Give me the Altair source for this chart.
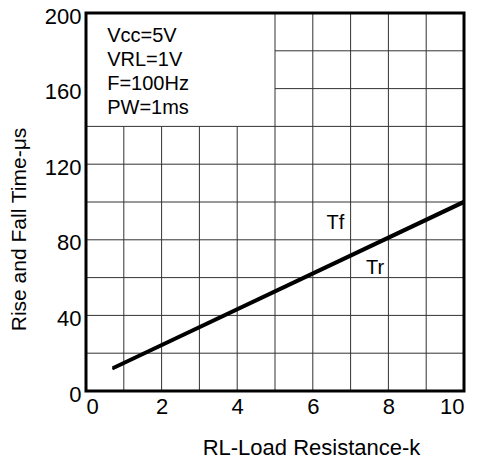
import altair as alt
import pandas as pd

# Data
rl_k = [0.7, 10.0]
tf_us = [12.3, 100.6]
tr_us = [11.6, 99.6]

x_ticks = [0, 2, 4, 6, 8, 10]
y_ticks = [0, 40, 80, 120, 160, 200]

cond_lines = ["Vcc=5V", "VRL=1V", "F=100Hz", "PW=1ms"]
cond_y = [187.8, 175.0, 162.4, 149.7]

curve_labels = ["Tf", "Tr"]
curve_label_x = [6.6, 7.65]
curve_label_y = [89, 65]

# grid segments (box in upper-left leaves grid blank)
vx = list(range(1, 10))
vy_top = [140 if v < 5 else 200 for v in vx]
hy = list(range(20, 200, 20))
hx_start = [5 if v > 140 else 0 for v in hy]

FONT = "Liberation Sans"

xs = alt.Scale(domain=[0, 10], nice=False, zero=False)
ys = alt.Scale(domain=[0, 200], nice=False, zero=False)

vgrid = pd.DataFrame({"x": vx, "y": [0] * len(vx), "y2": vy_top})
hgrid = pd.DataFrame({"y": hy, "x": hx_start, "x2": [10] * len(hy)})

x_axis = alt.Axis(values=x_ticks, grid=False, domain=False, ticks=False,
                  labelFont=FONT, labelFontSize=22, labelPadding=5, labelColor="black",
                  title="RL-Load Resistance-k", titleFont=FONT, titleFontSize=22,
                  titleFontWeight="normal", titleColor="black",
                  titleX=225, titleY=56, titleAlign="center", titleBaseline="middle")
y_axis = alt.Axis(values=y_ticks, grid=False, domain=False, ticks=False,
                  labelFont=FONT, labelFontSize=22, labelPadding=5, labelColor="black",
                  labelOffset=3,
                  title="Rise and Fall Time-μs", titleFont=FONT, titleFontSize=21,
                  titleFontWeight="normal", titleColor="black",
                  titleX=-67, titleY=216, titleAngle=270, titleAlign="center",
                  titleBaseline="middle")

v_layer = alt.Chart(vgrid).mark_rule(color="#333", strokeWidth=1).encode(
    x=alt.X("x:Q", scale=xs, axis=x_axis),
    y=alt.Y("y:Q", scale=ys, axis=y_axis),
    y2="y2:Q",
)
h_layer = alt.Chart(hgrid).mark_rule(color="#333", strokeWidth=1).encode(
    x=alt.X("x:Q", scale=xs),
    x2="x2:Q",
    y=alt.Y("y:Q", scale=ys),
)

curves = pd.DataFrame({
    "x": rl_k + rl_k,
    "y": tf_us + tr_us,
    "s": ["Tf"] * 2 + ["Tr"] * 2,
})
line_layer = alt.Chart(curves).mark_line(color="black", strokeWidth=2.5).encode(
    x=alt.X("x:Q", scale=xs),
    y=alt.Y("y:Q", scale=ys),
    detail="s:N",
)

cond = pd.DataFrame({"t": cond_lines, "x": [0.56] * len(cond_lines), "y": cond_y})
cond_layer = alt.Chart(cond).mark_text(align="left", baseline="middle", font=FONT,
                                       fontSize=20, color="black").encode(
    x=alt.X("x:Q", scale=xs), y=alt.Y("y:Q", scale=ys), text="t:N")

lab = pd.DataFrame({"t": curve_labels, "x": curve_label_x, "y": curve_label_y})
lab_layer = alt.Chart(lab).mark_text(align="center", baseline="middle", font=FONT,
                                     fontSize=20, color="black").encode(
    x=alt.X("x:Q", scale=xs), y=alt.Y("y:Q", scale=ys), text="t:N")

frame = pd.DataFrame({"x": [0], "x2": [10], "y": [0], "y2": [200]})
frame_layer = alt.Chart(frame).mark_rect(fillOpacity=0, stroke="black", strokeWidth=3).encode(
    x=alt.X("x:Q", scale=xs), x2="x2:Q", y=alt.Y("y:Q", scale=ys), y2="y2:Q")

chart = alt.layer(v_layer, h_layer, line_layer, cond_layer, lab_layer, frame_layer).properties(
    width=378, height=378,
    padding={"left": 78, "top": 5, "right": 8, "bottom": 68},
    autosize="none",
).configure_view(stroke=None).configure(background="white")

chart.save("out.html", embed_options={"renderer": "svg", "actions": False})
